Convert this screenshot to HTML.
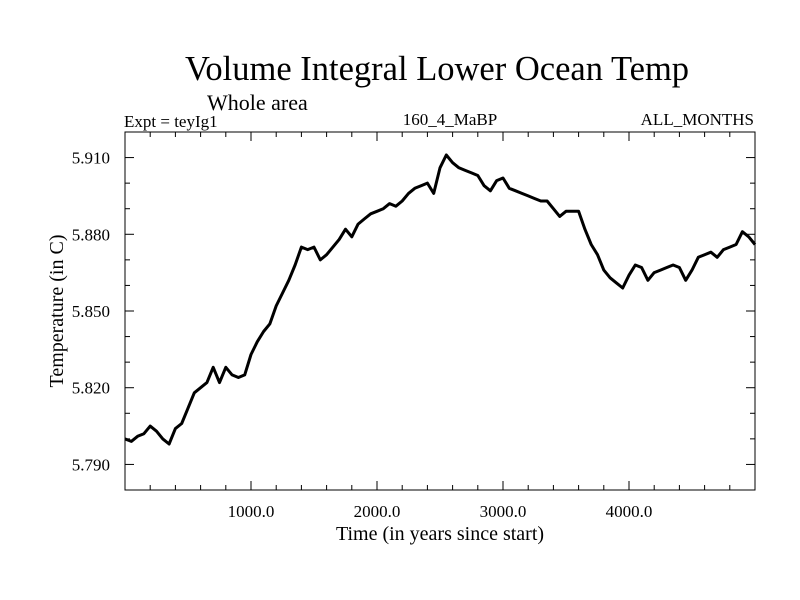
<!DOCTYPE html>
<html><head><meta charset="utf-8"><style>
body{margin:0;background:#fff}
svg{display:block;font-family:"Liberation Serif",serif}
</style></head><body>
<svg id="chart" width="800" height="600">
<text x="437" y="80" font-size="34.5" text-anchor="middle">Volume Integral Lower Ocean Temp</text>
<text x="207" y="110" font-size="22">Whole area</text>
<text x="124" y="127" font-size="17">Expt = teyIg1</text>
<text x="450" y="125" font-size="17" text-anchor="middle">160_4_MaBP</text>
<text x="754" y="125" font-size="17" text-anchor="end">ALL_MONTHS</text>
<text x="440" y="540" font-size="20" text-anchor="middle">Time (in years since start)</text>
<text transform="translate(63,311) rotate(-90)" font-size="20" text-anchor="middle">Temperature (in C)</text>
<g id="axes"></g>
<path id="series" fill="none" stroke="#000" stroke-width="3" stroke-linejoin="round"></path>
<rect x="125" y="132" width="630" height="358" fill="none" stroke="#000" stroke-width="1"></rect>
</svg>
<script>
const years=[0,50,100,150,200,250,300,350,400,450,500,550,600,650,700,750,800,850,900,950,1000,1050,1100,1150,1200,1250,1300,1350,1400,1450,1500,1550,1600,1650,1700,1750,1800,1850,1900,1950,2000,2050,2100,2150,2200,2250,2300,2350,2400,2450,2500,2550,2600,2650,2700,2750,2800,2850,2900,2950,3000,3050,3100,3150,3200,3250,3300,3350,3400,3450,3500,3550,3600,3650,3700,3750,3800,3850,3900,3950,4000,4050,4100,4150,4200,4250,4300,4350,4400,4450,4500,4550,4600,4650,4700,4750,4800,4850,4900,4950,5000];
const temps=[5.800,5.799,5.801,5.802,5.805,5.803,5.800,5.798,5.804,5.806,5.812,5.818,5.820,5.822,5.828,5.822,5.828,5.825,5.824,5.825,5.833,5.838,5.842,5.845,5.852,5.857,5.862,5.868,5.875,5.874,5.875,5.870,5.872,5.875,5.878,5.882,5.879,5.884,5.886,5.888,5.889,5.890,5.892,5.891,5.893,5.896,5.898,5.899,5.900,5.896,5.906,5.911,5.908,5.906,5.905,5.904,5.903,5.899,5.897,5.901,5.902,5.898,5.897,5.896,5.895,5.894,5.893,5.893,5.890,5.887,5.889,5.889,5.889,5.882,5.876,5.872,5.866,5.863,5.861,5.859,5.864,5.868,5.867,5.862,5.865,5.866,5.867,5.868,5.867,5.862,5.866,5.871,5.872,5.873,5.871,5.874,5.875,5.876,5.881,5.879,5.876];
const xTickLabels=["1000.0","2000.0","3000.0","4000.0"];
const xTickValues=[1000,2000,3000,4000];
const yTickLabels=["5.790","5.820","5.850","5.880","5.910"];
const yTickValues=[5.79,5.82,5.85,5.88,5.91];
const X0=125,X1=755,Y0=490,Y1=132,xMin=0,xMax=5000,yMin=5.78,yMax=5.92;
function xs(v){return X0+(v-xMin)/(xMax-xMin)*(X1-X0);}
function ys(v){return Y0-(v-yMin)/(yMax-yMin)*(Y0-Y1);}
const NS="http://www.w3.org/2000/svg",g=document.getElementById('axes');
function line(x1,y1,x2,y2,name){const l=document.createElementNS(NS,'line');l.setAttribute('x1',x1);l.setAttribute('y1',y1);l.setAttribute('x2',x2);l.setAttribute('y2',y2);l.setAttribute('stroke','#000');l.setAttribute('stroke-width','1');


g.appendChild(l);}
function text(x,y,s,anchor,name){const t=document.createElementNS(NS,'text');t.setAttribute('x',x);t.setAttribute('y',y);t.setAttribute('font-size','17');t.setAttribute('text-anchor',anchor);t.textContent=s;


g.appendChild(t);}
for(let v=200;v<xMax;v+=200){const x=xs(v),L=(v%1000===0)?9:5;line(x,Y0,x,Y0-L,'x-tick');line(x,Y1,x,Y1+L,'x-tick-top');}
for(let i=0;i<xTickValues.length;i++)text(xs(xTickValues[i]),517,xTickLabels[i],'middle','x-tick-label');
for(let k=1;k<14;k++){const v=yMin+k*0.01,y=ys(v),L=(k%3===1)?9:5;line(X0,y,X0+L,y,'y-tick');line(X1,y,X1-L,y,'y-tick-right');}
for(let i=0;i<yTickValues.length;i++)text(110,ys(yTickValues[i])+6,yTickLabels[i],'end','y-tick-label');
let d='';for(let i=0;i<years.length;i++)d+=(i?'L':'M')+xs(years[i]).toFixed(1)+','+ys(temps[i]).toFixed(1);
document.getElementById('series').setAttribute('d',d);
</script>
</body></html>
